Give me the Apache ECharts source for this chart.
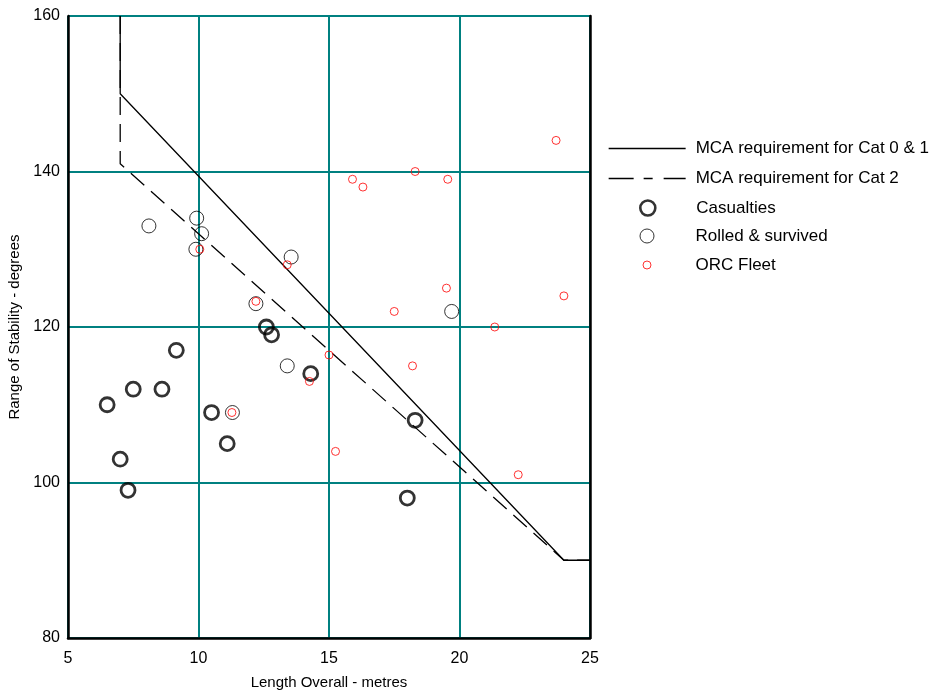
<!DOCTYPE html>
<html><head><meta charset="utf-8">
<script src="https://cdn.jsdelivr.net/npm/echarts@6/dist/echarts.min.js"></script>
<style>html,body{margin:0;padding:0;background:#fff}#c{width:933px;height:690px}</style>
</head><body><div id="c"></div>
<script>
// MCA requirement lines (LOA metres, range of stability degrees)
const cat01Line = [[7,160],[7,150],[24,90],[25,90]];
const cat2Line = [[7,160],[7,141],[24,90],[25,90]];
const casualties = [[6.5,110],[7.5,112],[8.6,112],[9.15,117],[7.0,103],[7.3,99],[10.5,109],[11.1,105],[12.6,120],[12.8,119],[14.3,114],[18.3,108],[18.0,98]];
const rolledSurvived = [[8.1,133],[9.93,134],[10.12,132],[9.9,130],[13.55,129],[12.2,123],[13.4,115],[11.3,109],[19.7,122]];
const orcFleet = [[15.9,139],[16.3,138],[18.3,140],[19.55,139],[23.7,144],[19.5,125],[24.0,124],[17.5,122],[21.35,120],[13.4,128],[15.0,116.4],[14.25,113],[18.2,115],[15.25,104],[22.25,101],[10.05,130],[12.2,123.3],[11.28,109]];
const xTicks = {min:5, max:25, interval:5};
const yTicks = {min:80, max:160, interval:20};
const names = ['MCA requirement for Cat 0 & 1','MCA requirement for Cat 2','Casualties','Rolled & survived','ORC Fleet'];

const FONT = 'Liberation Sans, Arial, sans-serif';
const teal = '#008080';
const chart = echarts.init(document.getElementById('c'));
const legendCfg = [
  {left: 608, top: 140, w: 77, h: 14, bw: 1.3, pad: 5, dash: 'solid'},
  {left: 608, top: 170, w: 77, h: 14, bw: 1.3, pad: 5, dash: [25, 10, 9, 11, 22]},
  {left: 639, top: 199.2, w: 87, h: 15, bw: 2.6, pad: 0},
  {left: 639.5, top: 227.5, w: 87, h: 14, bw: 1, pad: 0},
  {left: 642.5, top: 256.5, w: 87, h: 8, bw: 1, pad: 0}
];
const legends = names.map((n, i) => {
  const c = legendCfg[i];
  return {
    data: [n], orient: 'vertical', left: c.left, top: c.top, padding: 0,
    itemWidth: c.w, itemHeight: c.h, itemGap: 0,
    textStyle: {fontFamily: FONT, fontSize: 17, color: '#000', padding: [0, 0, 0, c.pad]},
    itemStyle: i < 2 ? {color: 'rgba(0,0,0,0)', borderWidth: 0, opacity: 0} : {borderWidth: c.bw},
    lineStyle: i < 2 ? {width: 1.3, type: c.dash} : {width: 1.3}
  };
});
chart.setOption({
  animation: false,
  backgroundColor: '#fff',
  legend: legends,
  grid: {left: 68, right: 343, top: 16, bottom: 52, show: false, outerBoundsMode: 'none', containLabel: false},
  xAxis: {
    type: 'value', min: xTicks.min, max: xTicks.max, interval: xTicks.interval,
    name: 'Length Overall - metres', nameLocation: 'middle', nameGap: 37,
    nameTextStyle: {fontFamily: FONT, fontSize: 15, color: '#000'},
    axisLine: {show: true, onZero: false, lineStyle: {color: '#000', width: 2.5}},
    axisTick: {show: false},
    axisLabel: {fontFamily: FONT, fontSize: 16, color: '#000', margin: 13},
    splitLine: {show: true, lineStyle: {color: teal, width: 2}}
  },
  yAxis: [{
    type: 'value', min: yTicks.min, max: yTicks.max, interval: yTicks.interval,
    name: 'Range of Stability - degrees', nameLocation: 'middle', nameGap: 39,
    nameTextStyle: {fontFamily: FONT, fontSize: 15, color: '#000'},
    axisLine: {show: true, onZero: false, lineStyle: {color: '#000', width: 2.5}},
    axisTick: {show: false},
    axisLabel: {fontFamily: FONT, fontSize: 16, color: '#000', margin: 8},
    splitLine: {show: true, lineStyle: {color: teal, width: 2}}
  }, {
    type: 'value', min: yTicks.min, max: yTicks.max, interval: yTicks.interval, position: 'right',
    axisLine: {show: true, onZero: false, lineStyle: {color: '#000', width: 2.5}},
    axisTick: {show: false}, axisLabel: {show: false}, splitLine: {show: false}
  }],
  series: [
    {name: names[0], type: 'line', data: cat01Line, symbol: 'none', lineStyle: {color: '#000', width: 1.3}, itemStyle: {color: '#000'}, z: 3},
    {name: names[1], type: 'line', data: cat2Line, symbol: 'none', lineStyle: {color: '#000', width: 1.3, type: [18, 9]}, itemStyle: {color: '#000'}, z: 3},
    {name: names[2], type: 'scatter', data: casualties, symbol: 'circle', symbolSize: 14, itemStyle: {color: 'rgba(0,0,0,0)', borderColor: '#000', borderWidth: 2.8}, z: 4},
    {name: names[3], type: 'scatter', data: rolledSurvived, symbol: 'circle', symbolSize: 14, itemStyle: {color: 'rgba(0,0,0,0)', borderColor: '#000', borderWidth: 1}, z: 5},
    {name: names[4], type: 'scatter', data: orcFleet, symbol: 'circle', symbolSize: 8, itemStyle: {color: 'rgba(0,0,0,0)', borderColor: '#ff0000', borderWidth: 1}, z: 6}
  ]
});
</script></body></html>
